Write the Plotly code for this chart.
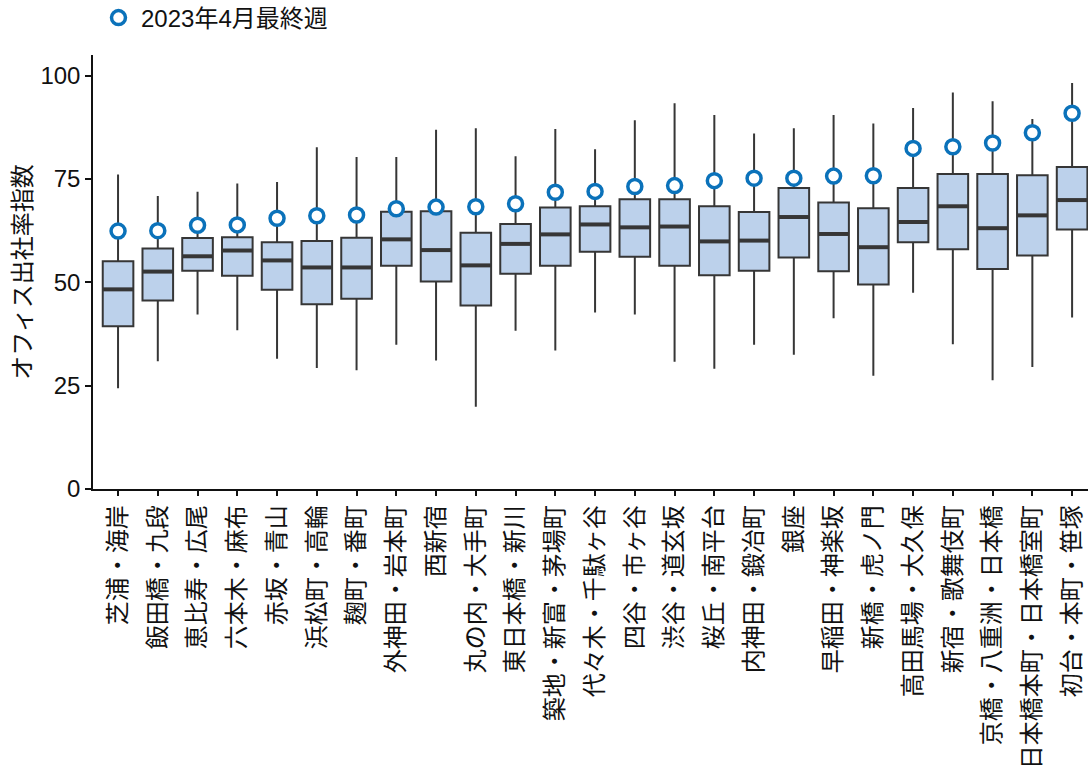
import plotly.graph_objects as go

categories = ["芝浦・海岸", "飯田橋・九段", "恵比寿・広尾", "六本木・麻布", "赤坂・青山",
              "浜松町・高輪", "麹町・番町", "外神田・岩本町", "西新宿", "丸の内・大手町",
              "東日本橋・新川", "築地・新富・茅場町", "代々木・千駄ヶ谷", "四谷・市ヶ谷", "渋谷・道玄坂",
              "桜丘・南平台", "内神田・鍛冶町", "銀座", "早稲田・神楽坂", "新橋・虎ノ門",
              "高田馬場・大久保", "新宿・歌舞伎町", "京橋・八重洲・日本橋", "日本橋本町・日本橋室町", "初台・本町・笹塚"]

lower = [24.4, 30.9, 42.2, 38.4, 31.5, 29.3, 28.7, 34.9, 31.1, 19.9, 38.3, 33.5, 42.7, 42.2, 30.8,
         29.1, 34.9, 32.5, 41.3, 27.4, 47.5, 35.0, 26.3, 29.5, 41.5]
q1 = [39.4, 45.6, 52.8, 51.6, 48.2, 44.7, 46.0, 54.0, 50.2, 44.4, 52.1, 54.0, 57.4, 56.2, 54.0,
      51.7, 52.8, 56.0, 52.7, 49.5, 59.7, 58.0, 53.2, 56.5, 62.8]
median = [48.3, 52.6, 56.3, 57.7, 55.3, 53.6, 53.6, 60.4, 57.8, 54.1, 59.3, 61.6, 64.0, 63.3, 63.5,
          59.9, 60.1, 65.8, 61.7, 58.5, 64.6, 68.4, 63.1, 66.2, 69.9]
q3 = [55.1, 58.2, 60.7, 60.9, 59.7, 60.0, 60.8, 67.1, 67.2, 62.0, 64.1, 68.1, 68.4, 70.1, 70.1,
      68.4, 67.0, 72.8, 69.3, 67.9, 72.8, 76.2, 76.2, 75.9, 77.9]
upper = [76.1, 70.9, 71.9, 73.9, 74.3, 82.7, 80.3, 80.3, 86.9, 87.3, 80.5, 87.1, 82.2, 89.2, 93.3,
         90.5, 86.0, 87.3, 90.5, 88.4, 92.2, 95.9, 93.8, 89.5, 98.2]
latest = [62.4, 62.5, 63.8, 63.9, 65.5, 66.1, 66.3, 67.8, 68.2, 68.3, 69.0, 71.8, 72.0, 73.2, 73.4,
          74.6, 75.2, 75.2, 75.7, 75.8, 82.4, 82.8, 83.7, 86.2, 90.9]

y_ticks = [0, 25, 50, 75, 100]
legend_name = "2023年4月最終週"
y_title = "オフィス出社率指数"

FONT = "Liberation Sans, Arial, Noto Sans CJK JP, sans-serif"
EDGE = "#363636"

fig = go.Figure()
fig.add_trace(go.Box(
    x=categories, q1=q1, median=median, q3=q3,
    lowerfence=lower, upperfence=upper,
    width=0.77, whiskerwidth=0,
    fillcolor="#bcd1eb", line=dict(color=EDGE, width=2),
    showlegend=False, hoverinfo="skip",
))
fig.add_trace(go.Scatter(
    x=categories, y=median, mode="markers",
    marker=dict(symbol="line-ew", size=21.5, line=dict(width=4, color=EDGE)),
    showlegend=False, hoverinfo="skip",
))
fig.add_trace(go.Scatter(
    x=categories, y=latest, mode="markers", name=legend_name,
    marker=dict(symbol="circle", size=14, color="white",
                line=dict(width=3.5, color="#0b72ba")),
))

fig.update_layout(
    width=1088, height=775,
    margin=dict(l=93, r=0, t=55, b=286),
    paper_bgcolor="white", plot_bgcolor="white",
    font=dict(family=FONT, size=24, color="#111"),
    showlegend=True,
    legend=dict(orientation="h", x=0.003, xanchor="left",
                yref="container", y=1 - 18 / 775, yanchor="middle",
                font=dict(size=24), bgcolor="rgba(0,0,0,0)", itemwidth=35),
)
fig.update_xaxes(
    type="category", range=[-0.63, 24.4],
    showline=True, linecolor="#111", linewidth=1.5,
    ticks="outside", ticklen=5, tickwidth=1.5, tickcolor="#111",
    tickangle=-90, showgrid=False, zeroline=False,
    tickfont=dict(size=24),
)
fig.update_yaxes(
    range=[0, 105], tickvals=y_ticks,
    showline=True, linecolor="#111", linewidth=1.5,
    ticks="outside", ticklen=6, tickwidth=1.5, tickcolor="#111",
    showgrid=False, zeroline=False,
    title=dict(text=y_title, standoff=2, font=dict(size=24)),
    tickfont=dict(size=24),
)

fig.write_html("out.html")
